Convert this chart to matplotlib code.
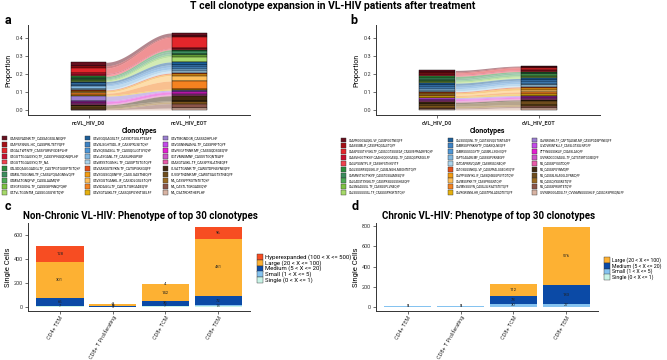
import numpy as np
import matplotlib
matplotlib.use('Agg')
import matplotlib.pyplot as plt
from matplotlib.patches import Rectangle

plt.rcParams['font.family'] = ['Roboto', 'DejaVu Sans']
NARROW = ['Liberation Sans Narrow', 'Roboto', 'DejaVu Sans']

# ---------------- data ----------------
title = "T cell clonotype expansion in VL-HIV patients after treatment"

clone_colors = ['#67101f', '#a50f15', '#e3262b', '#c8102e', '#f0414e',
                '#2a8c3c', '#3c8d5d', '#4daa56', '#7dc242', '#a6d96a',
                '#1d5f99', '#3d82c4', '#4d96d6', '#7fb6df', '#a9d3ec',
                '#e3501a', '#f39c12', '#fdbe5a', '#f58220', '#e6b00e',
                '#9b7fd0', '#c24be8', '#e41ed0', '#cc55c8', '#e85aa8',
                '#3f2a10', '#6e4c1c', '#9a6a22', '#8c5548', '#d8b3a3']

a_groups = ['ncVL_HIV_D0', 'ncVL_HIV_EOT']
a_clones = ['CAANSYADNR.TF_CASSAGSGLNEQFF', 'CAAPSFSNVL.HC_CASSPRLTETYQFF',
            'CAGALTWTNTF_CASSYGRVFGDEPLHF', 'CAGGTTGGAGSYQ.TF_CASSYPNGQDNQPLHF',
            'CAGGTTGGAGSYQ.TF_NA', 'CALSDQAGGGADGLTF_CASTPGTGGEPTETQYF',
            'CAMSLTSGGNKLTF_CASSLPQGAGNNVQYF', 'CAMSATGNQFVF_CASSLAAMQYF',
            'CASGFSGGNL.TF_CASSGEPNNQPQHF', 'CATVLTGGNTM_CASSGGSGYETQYF',
            'CAVEGQGAGSLTF_CASSDTGSLPTEAFF', 'CAVSLSGHTSDL.IF_CASSPRLSETQYF',
            'CAVSQSGASGL.TF_CASSQGLGTGYQYF', 'CAVLASGANL.TF_CASSLRNGPSIF',
            'CAVMSSTGGNKL.TF_CASSPTSTGTQYF', 'CAVSARGSTEYKN.TF_CATSPGRSGQFF',
            'CAVSGGSGQSNFYF_CASS.GASTNEQYF', 'CAVSGGTGANKL.IF_CASSDLGSLETQYF',
            'CAVSDAGGLTF_CASTLTGRGADEQYF', 'CAVSGTASKLTF_CASSQSPGYNTGELFF',
            'CAVTMGNDGR_CASSSDHPLHF', 'CAVGSNNNANNL.TF_CASSPRPTQYF',
            'CAVFEGFTNNR.MF_CASSGQDSGEQYF', 'CGTVMNSMNF_CASSVTGQNTEAFF',
            'CAASGTASKL.TF_CASSPFSLATNEQFF', 'CLVATTGNNR.TF_CAWSTDPNSYNEQFF',
            'CLVGFTNDNR.MF_CAWSTSAGTSTNEQYF', 'NA_CASSPPRGTNTETQYF',
            'NA_CASTLTGRGADEQYF', 'NA_CSATRDRTHEPLHF']
a_d0 = [0.020, 0.012, 0.030, 0.006, 0.010, 0.008, 0.006, 0.005, 0.006, 0.004,
        0.010, 0.008, 0.006, 0.018, 0.005, 0.004, 0.008, 0.006, 0.010, 0.006,
        0.025, 0.006, 0.010, 0.004, 0.004, 0.004, 0.015, 0.004, 0.003, 0.002]
a_eot = [0.018, 0.006, 0.060, 0.004, 0.005, 0.010, 0.012, 0.010, 0.008, 0.028,
         0.016, 0.012, 0.012, 0.010, 0.012, 0.006, 0.008, 0.030, 0.045, 0.006,
         0.005, 0.005, 0.012, 0.004, 0.005, 0.028, 0.006, 0.010, 0.025, 0.010]

b_groups = ['cVL_HIV_D0', 'cVL_HIV_EOT']
b_clones = ['CAAPRGGGSAQKL.VF_CASSPGGTNEQFF', 'CAASSSIMLIF_CASSPRQGALETQYF',
            'CAASPGSGTYFGKLTF_CASSGGTSGGEAF_CASSVEPRAARYEQYF',
            'CAASVHGGTYKYIF.CAAHGQGGGASQL.TF_CASSQGPRAGELFF',
            'CAGLPSGNTPL.IF_CASSHFSTNYGYTF', 'CAGLSSGRFSQGGKL.IF_CASSLNGHLMEGNTETQYF',
            'CAFMNVTSGTYKYIF_CASSTGSGAMSSQYF', 'CALGADSTSYGKLTF_CASSPRSGGGSSHSEQFF',
            'CALSNGAGGSL.TF_CASSGGPLVNEQYF', 'CALSGGGGGSSL.TF_CASSGSPRGRTETQYF',
            'CALSGSQGNL.TF_CASTSGVQGTSNTEAFF', 'CAMRSGPYNKNYTF_CSARSQLNEQFF',
            'CAMRSGGSGGYTF_CASSRLLSGNEQFF', 'CAPTGAGARLMF_CASSSSPVRNEGFF',
            'CATDAPRWVQLMF_CASSRSSGNEQYF', 'CATGSGGSNKQL.VF_CASSPRALGGEGYEQYF',
            'CAVPPSGNYKL.IF_CASSQNSGGPGYTDTQYF', 'CAVMSSPKR.TF_CASSPRGSNTQYF',
            'CAVMNSGGYN_CASSLSLRSATSTETQYF', 'CAVRGRSNNLHR_CASSTPNLADSDTETQYF',
            'CAVSRGNKLTF_CAPTQASWLMF_CASSPGDSPYNEQFF', 'CLVDVRSNTKLLF_CASSLGTSSLNPGFF',
            'CTTYNGGSGKLIF_CSASSLASQFF', 'CVVNRDGGGSAGGL.TF_CATSTSRTGGSEQFF',
            'NA_CASSSPYGSTDQFF', 'NA_CASSSPGYNMQFF', 'NA_CASSSLRLAGGLDYNMQFF',
            'NA_CASSQYSSSRETQYF', 'NA_CASSSPRGRTETQYF',
            'CVVNSRGGGADGLTF_CVVNMNGGGSHLIF_CASSGRSPRSQNLFF']
b_d0 = [0.008, 0.006, 0.008, 0.005, 0.006, 0.012, 0.008, 0.007, 0.006, 0.005,
        0.012, 0.010, 0.008, 0.012, 0.006, 0.005, 0.008, 0.007, 0.006, 0.006,
        0.005, 0.006, 0.005, 0.004, 0.006, 0.008, 0.014, 0.010, 0.006, 0.005]
b_eot = [0.004, 0.005, 0.012, 0.004, 0.006, 0.006, 0.008, 0.010, 0.006, 0.008,
         0.010, 0.010, 0.009, 0.010, 0.008, 0.006, 0.012, 0.010, 0.010, 0.010,
         0.005, 0.005, 0.005, 0.004, 0.005, 0.006, 0.020, 0.010, 0.008, 0.012]

phenotypes = ['CD4+ TEM', 'CD8+ T Proliferating', 'CD8+ TCM', 'CD8+ TEM']
size_names = ['Single (0 < X <= 1)', 'Small (1 < X <= 5)', 'Medium (5 < X <= 20)',
              'Large (20 < X <= 100)', 'Hyperexpanded (100 < X <= 500)']
size_colors = ['#c8f3e6', '#85c3f0', '#0b4aa6', '#fdb133', '#f74d22']

c_single = [5, 1, 5, 5]
c_small = [7, 3, 7, 13]
c_medium = [65, 3, 36, 72]
c_large = [301, 16, 142, 481]
c_hyper = [128, 2, 4, 96]

d_single = [3, 2, 4, 4]
d_small = [8, 8, 30, 27]
d_medium = [1, 1, 78, 183]
d_large = [0, 0, 112, 576]
d_hyper = [0, 0, 0, 0]

# ---------------- layout helpers ----------------
W, H = 667, 360
fig = plt.figure(figsize=(6.67, 3.6), dpi=100)


def rect(x0, y0, x1, y1):
    return [x0 / W, 1 - y1 / H, (x1 - x0) / W, (y1 - y0) / H]


def ftext(x, y, s, **kw):
    fig.text(x / W, 1 - y / H, s, **kw)


def fbox(x, y, w, h, color):
    fig.add_artist(Rectangle((x / W, 1 - (y + h) / H), w / W, h / H,
                             transform=fig.transFigure, facecolor=color,
                             edgecolor='#333333', linewidth=0.3))


def style(ax):
    for s in ('top', 'right'):
        ax.spines[s].set_visible(False)
    for s in ('left', 'bottom'):
        ax.spines[s].set_color('#333333')
        ax.spines[s].set_linewidth(0.7)
    ax.tick_params(length=2, width=0.5, colors='#333333', labelsize=4, pad=1.5)


def alluvial(ax, v0, v1, cols, groups, w=0.34):
    v0 = np.array(v0)
    v1 = np.array(v1)
    n = len(v0)
    b0 = np.array([v0[i + 1:].sum() for i in range(n)])
    b1 = np.array([v1[i + 1:].sum() for i in range(n)])
    xs = np.linspace(1 + w / 2, 2 - w / 2, 120)
    t = (xs - xs[0]) / (xs[-1] - xs[0])
    s = (1 - np.cos(np.pi * t)) / 2
    for i in range(n):
        lo = b0[i] + (b1[i] - b0[i]) * s
        hi = b0[i] + v0[i] + (b1[i] + v1[i] - b0[i] - v0[i]) * s
        ax.fill_between(xs, lo, hi, color=cols[i], alpha=0.5, lw=0, zorder=1)
    for x, v, b in ((1, v0, b0), (2, v1, b1)):
        ax.bar(np.full(n, x), v, bottom=b, width=w, color=cols,
               edgecolor='black', linewidth=0.3, zorder=2)
    ax.set_xlim(0.4, 2.6)
    ax.set_ylim(-0.028, 0.472)
    ax.set_yticks([0.0, 0.1, 0.2, 0.3, 0.4])
    ax.set_yticklabels(['0.0', '0.1', '0.2', '0.3', '0.4'])
    ax.set_xticks([1, 2])
    ax.set_xticklabels(groups, fontweight='bold', fontsize=4)
    ax.set_ylabel('Proportion', fontsize=5, labelpad=2)
    style(ax)


def clone_legend(x_cols, y_top, dy, names, cols, fs):
    for k, (nm, c) in enumerate(zip(names, cols)):
        col, row = divmod(k, 10)
        x = x_cols[col]
        y = y_top + row * dy
        fbox(x, y - 2.5, 5, 5, c)
        ftext(x + 8, y, nm, fontsize=fs, va='center', ha='left')


def stacked(ax, layers, ymax, yticks):
    x = np.arange(1, len(phenotypes) + 1)
    bottom = np.zeros(len(phenotypes))
    for li, (vals, c) in enumerate(zip(layers, size_colors)):
        vals = np.array(vals, dtype=float)
        ax.bar(x, vals, bottom=bottom, width=0.9, color=c, edgecolor='none', zorder=2)
        for xi, v, b in zip(x, vals, bottom):
            if v > 0 and li > 0:
                ax.text(xi, b + v / 2, f'{int(v)}', fontsize=3, ha='center',
                        va='center', color='#222222', zorder=3)
        bottom += vals
    ax.set_xlim(0.4, 4.6)
    ax.set_ylim(-ymax * 0.047, ymax)
    ax.set_yticks(yticks)
    ax.set_xticks(x)
    ax.set_xticklabels(phenotypes, rotation=60, ha='right', rotation_mode='anchor',
                       fontsize=3.3, family=NARROW)
    ax.set_ylabel('Single Cells', fontsize=5.5, labelpad=2)
    style(ax)
    ax.tick_params(axis='x', pad=0.8)


def size_legend(x, y_top, dy, idx, fs):
    for r, i in enumerate(idx):
        y = y_top + r * dy
        fbox(x, y - 3, 6, 6, size_colors[i])
        ftext(x + 8, y, size_names[i], fontsize=fs, va='center', ha='left')


# ---------------- title and labels ----------------
ftext(333, 6, title, fontsize=7.5, fontweight='bold', ha='center', va='center',
      family=NARROW)
for lab, (x, y) in zip('abcd', [(8, 20), (354, 20), (8, 207), (355, 207)]):
    ftext(x, y, lab, fontsize=9, fontweight='bold', ha='center', va='center')

# ---------------- panel a ----------------
ax_a = fig.add_axes(rect(28, 25, 250, 115))
alluvial(ax_a, a_d0, a_eot, clone_colors, a_groups)
ftext(140, 131, 'Clonotypes', fontsize=5, fontweight='bold', ha='center', va='center')
clone_legend([2, 85, 163], 138, 6.0, a_clones, clone_colors, 2.4)

# ---------------- panel b ----------------
ax_b = fig.add_axes(rect(376, 25, 600, 115))
alluvial(ax_b, b_d0, b_eot, clone_colors, b_groups, w=0.36)
ftext(487, 131, 'Clonotypes', fontsize=5, fontweight='bold', ha='center', va='center')
clone_legend([341, 448, 532], 140, 5.85, b_clones, clone_colors, 2.2)

# ---------------- panel c ----------------
ax_c = fig.add_axes(rect(28, 223, 250, 311))
stacked(ax_c, [c_single, c_small, c_medium, c_large, c_hyper], 702, [0, 200, 400, 600])
ftext(140, 216, 'Non-Chronic VL-HIV: Phenotype of top 30 clonotypes', fontsize=7,
      fontweight='bold', ha='center', va='center', family=NARROW)
size_legend(257, 257, 5.8, [4, 3, 2, 1, 0], 4.3)

# ---------------- panel d ----------------
ax_d = fig.add_axes(rect(376, 223, 598, 311))
stacked(ax_d, [d_single, d_small, d_medium, d_large, d_hyper], 831, [0, 200, 400, 600, 800])
ftext(489, 216, 'Chronic VL-HIV: Phenotype of top 30 clonotypes', fontsize=7,
      fontweight='bold', ha='center', va='center', family=NARROW)
size_legend(604, 260, 5.8, [3, 2, 1, 0], 3.8)

fig.savefig('out.png', dpi=100)
